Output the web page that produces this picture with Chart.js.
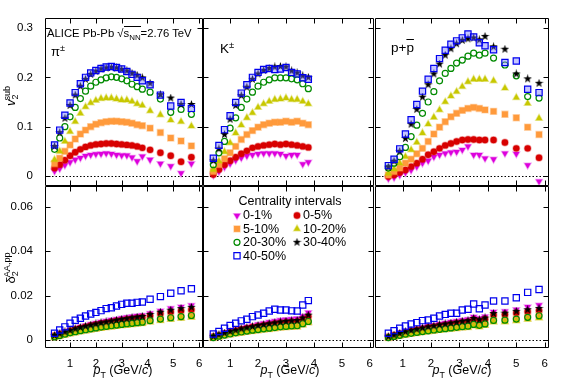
<!DOCTYPE html>
<html>
<head>
<meta charset="utf-8">
<script src="https://cdn.jsdelivr.net/npm/chart.js@4.4.1/dist/chart.umd.min.js"></script>
<style>
  body { margin: 0; background: #fff; }
  #wrap { position: relative; width: 567px; height: 385px; font-family: "Liberation Sans", Arial, sans-serif; color: #000; }
  #wrap canvas { position: absolute; left: 0; top: 0; }
  .lbl { position: absolute; white-space: nowrap; line-height: 1; }
  .lbl sub, .lbl sup { font-size: 0.7em; line-height: 0; }
  .rot { transform: translate(-50%, -50%) rotate(-90deg); }
  .xt { transform: translateX(-50%); }
</style>
</head>
<body>
<div id="wrap">
  <canvas id="c0" width="567" height="385"></canvas>
  <canvas id="c1" width="567" height="385"></canvas>
  <canvas id="c2" width="567" height="385"></canvas>
  <canvas id="c3" width="567" height="385"></canvas>
  <canvas id="c4" width="567" height="385"></canvas>
  <canvas id="c5" width="567" height="385"></canvas>

  <div class="lbl" style="left:47px;top:28px;font-size:11.3px">ALICE Pb-Pb <span>&radic;</span><span style="border-top:1px solid #000">s<sub>NN</sub></span>=2.76 TeV</div>
  <div class="lbl" style="left:51px;top:45px;font-size:13px">&pi;<sup>&plusmn;</sup></div>
  <div class="lbl" style="left:220px;top:42px;font-size:13.5px">K<sup>&plusmn;</sup></div>
  <div class="lbl" style="left:391px;top:41px;font-size:13.5px">p+<span style="text-decoration:overline">p</span></div>

  <div class="lbl rot" style="left:10px;top:96px;font-size:13px"><i>v</i><sub>2</sub><sup style="margin-left:-6px">sub</sup></div>
  <div class="lbl rot" style="left:10px;top:268px;font-size:13px">&delta;<sub>2</sub><sup style="margin-left:-6px">AA,pp</sup></div>

  <div class="lbl xt" style="left:123px;top:364px;font-size:12.5px"><i>p</i><sub>T</sub> (GeV/<i>c</i>)</div>
  <div class="lbl xt" style="left:290px;top:364px;font-size:12.5px"><i>p</i><sub>T</sub> (GeV/<i>c</i>)</div>
  <div class="lbl xt" style="left:462px;top:364px;font-size:12.5px"><i>p</i><sub>T</sub> (GeV/<i>c</i>)</div>
</div>

<script>
// ---- data ----
const centralities = ['0-1%', '0-5%', '5-10%', '10-20%', '20-30%', '30-40%', '40-50%'];
const legendTitle = 'Centrality intervals';

const xTicks = [1, 2, 3, 4, 5, 6];
const v2Ticks = [0, 0.1, 0.2, 0.3];
const deltaTicks = [0, 0.02, 0.04, 0.06];
const zeroLine = 0;

const ptPion = [0.4, 0.6, 0.8, 1.0, 1.2, 1.4, 1.6, 1.8, 2.0, 2.2, 2.4, 2.6, 2.8, 3.0, 3.2, 3.4, 3.6, 3.8, 4.1, 4.5, 4.9, 5.3, 5.7];
const ptKaon = [0.4, 0.6, 0.8, 1.0, 1.2, 1.4, 1.6, 1.8, 2.0, 2.2, 2.4, 2.6, 2.8, 3.0, 3.2, 3.4, 3.6, 3.8];
const ptProton = [0.5, 0.7, 0.9, 1.1, 1.3, 1.5, 1.7, 1.9, 2.1, 2.3, 2.5, 2.7, 2.9, 3.1, 3.3, 3.5, 3.7, 3.9, 4.2, 4.6, 5.0, 5.4, 5.8];

// v2 sub, one row per centrality (same order as centralities)
const v2Pion = [
  [0.010, 0.015, 0.022, 0.028, 0.033, 0.037, 0.041, 0.043, 0.0445, 0.045, 0.046, 0.045, 0.043, 0.042, 0.042, 0.038, 0.030, 0.040, 0.033, 0.025, 0.020, 0.006, 0.025],
  [0.016, 0.023, 0.032, 0.041, 0.048, 0.054, 0.059, 0.062, 0.064, 0.065, 0.066, 0.066, 0.065, 0.064, 0.063, 0.062, 0.060, 0.057, 0.053, 0.047, 0.041, 0.029, 0.038],
  [0.025, 0.036, 0.050, 0.063, 0.075, 0.085, 0.093, 0.100, 0.105, 0.108, 0.110, 0.111, 0.111, 0.110, 0.109, 0.107, 0.104, 0.102, 0.097, 0.088, 0.077, 0.071, 0.061],
  [0.033, 0.050, 0.070, 0.090, 0.110, 0.127, 0.140, 0.148, 0.153, 0.157, 0.158, 0.158, 0.156, 0.154, 0.154, 0.151, 0.146, 0.143, 0.132, 0.124, 0.113, 0.110, 0.101],
  [0.054, 0.077, 0.100, 0.120, 0.139, 0.157, 0.172, 0.182, 0.190, 0.195, 0.199, 0.201, 0.200, 0.197, 0.193, 0.186, 0.181, 0.176, 0.170, 0.156, 0.129, 0.135, 0.125],
  [0.060, 0.088, 0.117, 0.143, 0.164, 0.182, 0.196, 0.206, 0.212, 0.217, 0.219, 0.220, 0.219, 0.216, 0.213, 0.208, 0.204, 0.199, 0.188, 0.165, 0.158, 0.145, 0.145],
  [0.063, 0.093, 0.123, 0.148, 0.169, 0.187, 0.200, 0.209, 0.214, 0.218, 0.221, 0.222, 0.220, 0.217, 0.212, 0.206, 0.200, 0.193, 0.185, 0.164, 0.142, 0.149, 0.137]
];
const v2Kaon = [
  [0.002, 0.009, 0.018, 0.025, 0.032, 0.037, 0.041, 0.043, 0.045, 0.046, 0.046, 0.046, 0.045, 0.041, 0.043, 0.043, 0.024, 0.028],
  [0.003, 0.013, 0.023, 0.031, 0.038, 0.045, 0.051, 0.057, 0.060, 0.062, 0.0635, 0.065, 0.0635, 0.065, 0.0635, 0.062, 0.060, 0.058],
  [0.009, 0.023, 0.035, 0.047, 0.060, 0.074, 0.084, 0.092, 0.099, 0.104, 0.107, 0.109, 0.109, 0.111, 0.109, 0.111, 0.107, 0.104],
  [0.013, 0.030, 0.049, 0.067, 0.087, 0.103, 0.118, 0.128, 0.139, 0.146, 0.151, 0.155, 0.156, 0.158, 0.155, 0.155, 0.151, 0.146],
  [0.023, 0.047, 0.070, 0.097, 0.118, 0.139, 0.156, 0.170, 0.182, 0.190, 0.195, 0.199, 0.199, 0.199, 0.197, 0.195, 0.187, 0.177],
  [0.031, 0.055, 0.084, 0.115, 0.143, 0.163, 0.180, 0.196, 0.207, 0.214, 0.218, 0.221, 0.222, 0.221, 0.213, 0.209, 0.203, 0.200],
  [0.036, 0.062, 0.094, 0.122, 0.149, 0.168, 0.185, 0.200, 0.210, 0.216, 0.218, 0.216, 0.217, 0.220, 0.210, 0.207, 0.199, 0.196]
];
const v2Proton = [
  [-0.005, -0.003, 0.002, 0.007, 0.012, 0.019, 0.026, 0.031, 0.039, 0.043, 0.046, 0.048, 0.049, 0.053, 0.060, 0.043, 0.043, 0.036, 0.034, 0.046, 0.045, 0.022, -0.011],
  [-0.001, 0.002, 0.007, 0.012, 0.019, 0.026, 0.034, 0.043, 0.049, 0.056, 0.062, 0.066, 0.070, 0.073, 0.074, 0.074, 0.073, 0.073, 0.073, 0.068, 0.056, 0.056, 0.037],
  [0.002, 0.009, 0.016, 0.026, 0.034, 0.045, 0.056, 0.070, 0.085, 0.099, 0.110, 0.120, 0.127, 0.133, 0.137, 0.139, 0.137, 0.134, 0.131, 0.125, 0.118, 0.099, 0.084],
  [0.005, 0.014, 0.026, 0.039, 0.053, 0.068, 0.087, 0.105, 0.119, 0.134, 0.150, 0.162, 0.171, 0.181, 0.191, 0.196, 0.196, 0.196, 0.193, 0.178, 0.159, 0.147, 0.117],
  [0.016, 0.026, 0.039, 0.058, 0.080, 0.103, 0.127, 0.150, 0.171, 0.193, 0.208, 0.218, 0.229, 0.235, 0.243, 0.249, 0.245, 0.249, 0.239, 0.225, 0.203, 0.161, 0.158],
  [0.018, 0.030, 0.050, 0.076, 0.105, 0.135, 0.160, 0.185, 0.207, 0.227, 0.245, 0.258, 0.268, 0.275, 0.278, 0.280, 0.276, 0.283, 0.262, 0.257, 0.207, 0.197, 0.188],
  [0.021, 0.034, 0.055, 0.085, 0.114, 0.145, 0.172, 0.196, 0.218, 0.238, 0.255, 0.267, 0.274, 0.280, 0.288, 0.282, 0.270, 0.264, 0.256, 0.230, 0.233, 0.176, 0.169]
];

// delta2 AA,pp
const deltaPion = [
  [0.0022, 0.0030, 0.0038, 0.0046, 0.0053, 0.0060, 0.0066, 0.0072, 0.0077, 0.0082, 0.0087, 0.0091, 0.0095, 0.0099, 0.0103, 0.0106, 0.0109, 0.0112, 0.0121, 0.0132, 0.0143, 0.0150, 0.0157],
  [0.0020, 0.0028, 0.0035, 0.0042, 0.0048, 0.0054, 0.0060, 0.0065, 0.0070, 0.0074, 0.0078, 0.0082, 0.0086, 0.0089, 0.0093, 0.0096, 0.0099, 0.0102, 0.0110, 0.0119, 0.0127, 0.0132, 0.0137],
  [0.0015, 0.0021, 0.0027, 0.0032, 0.0037, 0.0042, 0.0046, 0.0050, 0.0054, 0.0058, 0.0061, 0.0064, 0.0067, 0.0070, 0.0073, 0.0075, 0.0078, 0.0080, 0.0087, 0.0094, 0.0100, 0.0105, 0.0110],
  [0.0012, 0.0018, 0.0024, 0.0029, 0.0034, 0.0038, 0.0042, 0.0046, 0.0050, 0.0053, 0.0056, 0.0059, 0.0062, 0.0065, 0.0067, 0.0070, 0.0072, 0.0075, 0.0081, 0.0088, 0.0094, 0.0098, 0.0102],
  [0.0015, 0.0021, 0.0027, 0.0033, 0.0038, 0.0043, 0.0047, 0.0051, 0.0055, 0.0059, 0.0062, 0.0065, 0.0068, 0.0071, 0.0074, 0.0076, 0.0079, 0.0081, 0.0088, 0.0095, 0.0101, 0.0106, 0.0111],
  [0.0021, 0.0029, 0.0037, 0.0044, 0.0051, 0.0057, 0.0063, 0.0068, 0.0073, 0.0078, 0.0082, 0.0086, 0.0090, 0.0094, 0.0097, 0.0101, 0.0104, 0.0107, 0.0116, 0.0126, 0.0135, 0.0142, 0.0148],
  [0.0031, 0.0046, 0.0060, 0.0076, 0.0090, 0.0099, 0.0109, 0.0118, 0.0125, 0.0133, 0.0142, 0.0146, 0.0154, 0.0161, 0.0166, 0.0166, 0.0170, 0.0172, 0.0184, 0.0196, 0.0211, 0.0222, 0.0231]
];
const deltaKaon = [
  [0.0018, 0.0026, 0.0034, 0.0041, 0.0048, 0.0054, 0.0060, 0.0066, 0.0071, 0.0076, 0.0081, 0.0086, 0.0090, 0.0093, 0.0095, 0.0097, 0.0108, 0.0124],
  [0.0016, 0.0023, 0.0030, 0.0036, 0.0042, 0.0048, 0.0053, 0.0058, 0.0062, 0.0066, 0.0070, 0.0074, 0.0078, 0.0080, 0.0082, 0.0083, 0.0093, 0.0106],
  [0.0012, 0.0018, 0.0023, 0.0028, 0.0032, 0.0036, 0.0040, 0.0044, 0.0047, 0.0050, 0.0053, 0.0056, 0.0059, 0.0061, 0.0063, 0.0064, 0.0073, 0.0083],
  [0.0010, 0.0015, 0.0020, 0.0025, 0.0029, 0.0033, 0.0037, 0.0040, 0.0043, 0.0046, 0.0049, 0.0052, 0.0055, 0.0057, 0.0059, 0.0060, 0.0069, 0.0079],
  [0.0012, 0.0018, 0.0023, 0.0028, 0.0033, 0.0037, 0.0041, 0.0045, 0.0048, 0.0051, 0.0054, 0.0057, 0.0060, 0.0062, 0.0064, 0.0065, 0.0074, 0.0084],
  [0.0017, 0.0024, 0.0032, 0.0039, 0.0045, 0.0051, 0.0056, 0.0061, 0.0066, 0.0070, 0.0074, 0.0078, 0.0082, 0.0085, 0.0087, 0.0089, 0.0100, 0.0113],
  [0.0028, 0.0039, 0.0054, 0.0066, 0.0076, 0.0087, 0.0094, 0.0106, 0.0113, 0.0121, 0.0131, 0.0139, 0.0136, 0.0136, 0.0132, 0.0131, 0.0158, 0.0178]
];
const deltaProton = [
  [0.0017, 0.0025, 0.0033, 0.0040, 0.0046, 0.0052, 0.0058, 0.0063, 0.0068, 0.0073, 0.0078, 0.0082, 0.0086, 0.0090, 0.0094, 0.0105, 0.0098, 0.0106, 0.0128, 0.0130, 0.0138, 0.0150, 0.0158],
  [0.0015, 0.0022, 0.0029, 0.0035, 0.0041, 0.0046, 0.0051, 0.0056, 0.0060, 0.0064, 0.0068, 0.0072, 0.0075, 0.0079, 0.0082, 0.0092, 0.0086, 0.0094, 0.0113, 0.0115, 0.0122, 0.0128, 0.0133],
  [0.0012, 0.0017, 0.0022, 0.0027, 0.0031, 0.0035, 0.0039, 0.0042, 0.0045, 0.0049, 0.0052, 0.0055, 0.0057, 0.0060, 0.0063, 0.0070, 0.0066, 0.0072, 0.0088, 0.0089, 0.0094, 0.0102, 0.0109],
  [0.0010, 0.0014, 0.0019, 0.0023, 0.0027, 0.0031, 0.0035, 0.0038, 0.0041, 0.0044, 0.0047, 0.0050, 0.0052, 0.0055, 0.0057, 0.0064, 0.0060, 0.0066, 0.0081, 0.0082, 0.0087, 0.0094, 0.0099],
  [0.0012, 0.0017, 0.0022, 0.0027, 0.0031, 0.0035, 0.0039, 0.0042, 0.0046, 0.0049, 0.0052, 0.0055, 0.0058, 0.0061, 0.0063, 0.0071, 0.0067, 0.0073, 0.0089, 0.0090, 0.0095, 0.0103, 0.0110],
  [0.0016, 0.0023, 0.0031, 0.0038, 0.0044, 0.0049, 0.0055, 0.0060, 0.0064, 0.0069, 0.0073, 0.0077, 0.0081, 0.0085, 0.0088, 0.0098, 0.0092, 0.0100, 0.0120, 0.0122, 0.0130, 0.0137, 0.0143],
  [0.0031, 0.0043, 0.0054, 0.0064, 0.0073, 0.0079, 0.0088, 0.0091, 0.0099, 0.0109, 0.0116, 0.0121, 0.0121, 0.0136, 0.0139, 0.0163, 0.0141, 0.0158, 0.0176, 0.0176, 0.0191, 0.0215, 0.0228]
];

// ---- layout / style ----
const colEdges = [[45, 203], [203, 374], [375, 549]];
const rowEdges = [[18, 186], [186, 348]];
const xRange = [0.03, 6.15];
const v2Range = [-0.0203, 0.3203];
const deltaRange = [-0.0035, 0.0693];
const tickFont = { family: '"Liberation Sans", Arial, sans-serif', size: 11.5 };

function starImage(size, color) {
  const c = document.createElement('canvas');
  c.width = size; c.height = size;
  const g = c.getContext('2d');
  g.fillStyle = color;
  g.beginPath();
  for (let i = 0; i < 10; i++) {
    const r = i % 2 ? size * 0.2 : size * 0.5;
    const a = -Math.PI / 2 + i * Math.PI / 5;
    g.lineTo(size / 2 + r * Math.cos(a), size / 2 + r * Math.sin(a));
  }
  g.closePath();
  g.fill();
  return c;
}

const markers = [
  { style: 'triangle', rot: 180, r: 3.7, fill: '#dd00dd', line: 'rgba(221,0,221,0.35)', bw: 1.5 },
  { style: 'circle', r: 3.2, fill: '#d80000', line: 'rgba(216,0,0,0.35)', bw: 1.5 },
  { style: 'rect', r: 4.2, fill: '#ff9a3c', line: 'rgba(255,154,60,0.4)', bw: 1.5 },
  { style: 'triangle', r: 3.7, fill: '#c8c800', line: 'rgba(200,200,0,0.4)', bw: 1.5 },
  { style: 'circle', r: 3.0, fill: 'rgba(0,0,0,0)', line: '#008a00', bw: 1.2 },
  { style: starImage(9, '#000'), r: 4, fill: '#000', line: '#000', bw: 0 },
  { style: 'rect', r: 4.4, fill: 'rgba(0,0,0,0)', line: '#0000ee', bw: 1.2 }
];
const boxFillTop = 'rgba(110,110,255,0.4)';

function buildDatasets(pt, series, top) {
  return series.map((vals, i) => {
    const m = markers[i];
    const fill = (top && i === 6) ? boxFillTop : m.fill;
    return {
      label: centralities[i],
      data: vals.map((v, k) => ({ x: pt[k], y: v })),
      showLine: false,
      pointStyle: m.style,
      pointRadius: m.r,
      pointRotation: m.rot || 0,
      pointBackgroundColor: fill,
      pointBorderColor: m.line,
      pointBorderWidth: m.bw,
      backgroundColor: fill,
      borderColor: m.line,
      order: 6 - i
    };
  });
}

// frame with inward ticks on all four sides and the dotted zero line
const rootFrame = {
  id: 'rootFrame',
  beforeDatasetsDraw(chart) {
    const { ctx, chartArea: a, scales } = chart;
    const py = Math.round(scales.y.getPixelForValue(zeroLine)) + 0.5;
    ctx.save();
    ctx.strokeStyle = '#000';
    ctx.lineWidth = 1;
    ctx.setLineDash([1.5, 2]);
    ctx.beginPath();
    ctx.moveTo(a.left, py);
    ctx.lineTo(a.right, py);
    ctx.stroke();
    ctx.restore();
  },
  afterDraw(chart) {
    const { ctx, chartArea: a, scales } = chart;
    const L = Math.round(a.left) + 0.5, R = Math.round(a.right) - 0.5;
    const T = Math.round(a.top) + 0.5, B = Math.round(a.bottom) - 0.5;
    const tl = 5;
    ctx.save();
    ctx.strokeStyle = '#000';
    ctx.lineWidth = 1;
    ctx.beginPath();
    ctx.rect(L, T, R - L, B - T);
    scales.x.ticks.forEach(t => {
      const px = Math.round(scales.x.getPixelForValue(t.value)) + 0.5;
      ctx.moveTo(px, B); ctx.lineTo(px, B - tl);
      ctx.moveTo(px, T); ctx.lineTo(px, T + tl);
    });
    scales.y.ticks.forEach(t => {
      const py = Math.round(scales.y.getPixelForValue(t.value)) + 0.5;
      ctx.moveTo(L, py); ctx.lineTo(L + tl, py);
      ctx.moveTo(R, py); ctx.lineTo(R - tl, py);
    });
    ctx.stroke();
    ctx.restore();
  }
};

// centrality legend drawn inside one panel, from its datasets
const legendBox = {
  id: 'legendBox',
  afterDraw(chart) {
    const { ctx, chartArea: a } = chart;
    ctx.save();
    ctx.fillStyle = '#000';
    ctx.font = '12.5px "Liberation Sans", Arial, sans-serif';
    ctx.textAlign = 'center';
    ctx.textBaseline = 'middle';
    ctx.fillText(legendTitle, a.left + 87, a.top + 16);
    ctx.textAlign = 'left';
    chart.data.datasets.forEach((ds, i) => {
      const m = markers[i];
      const mx = a.left + 34 + (i % 2) * 60;
      const my = a.top + 29.5 + Math.floor(i / 2) * 13.4;
      ctx.fillStyle = m.fill;
      ctx.strokeStyle = m.line;
      ctx.lineWidth = m.bw;
      if (Chart.helpers && Chart.helpers.drawPoint) {
        Chart.helpers.drawPoint(ctx, { pointStyle: m.style, radius: m.r, rotation: m.rot || 0, borderWidth: m.bw }, mx, my);
      }
      ctx.fillStyle = '#000';
      ctx.fillText(ds.label, mx + 6, my + 0.5);
    });
    ctx.restore();
  }
};

function makePanel(id, col, row, pt, series, yRange, yTicks, withLegend) {
  const showY = col === 0;
  const showX = row === 1;
  const yW = 40, xH = 20;
  const [l, r] = colEdges[col];
  const [t, b] = rowEdges[row];
  const plugins = [rootFrame];
  if (withLegend) plugins.push(legendBox);
  return new Chart(document.getElementById(id), {
    type: 'scatter',
    data: { datasets: buildDatasets(pt, series, row === 0) },
    options: {
      responsive: false,
      animation: false,
      events: [],
      layout: {
        padding: { left: l - (showY ? yW : 0), right: 567 - r, top: t, bottom: 385 - b - (showX ? xH : 0) }
      },
      scales: {
        x: {
          type: 'linear',
          min: xRange[0], max: xRange[1],
          display: showX,
          grid: { display: false },
          border: { display: false },
          afterBuildTicks: s => { s.ticks = xTicks.map(v => ({ value: v })); },
          afterFit: s => { s.height = showX ? xH : 0; },
          ticks: { font: tickFont, color: '#000', padding: 1, maxRotation: 0, callback: v => String(v) }
        },
        y: {
          type: 'linear',
          min: yRange[0], max: yRange[1],
          display: showY,
          grid: { display: false },
          border: { display: false },
          afterBuildTicks: s => { s.ticks = yTicks.map(v => ({ value: v })); },
          afterFit: s => { s.width = showY ? yW : 0; },
          ticks: { font: tickFont, color: '#000', padding: 4, callback: v => String(v) }
        }
      },
      plugins: { legend: { display: false }, tooltip: { enabled: false } }
    },
    plugins: plugins
  });
}

makePanel('c0', 0, 0, ptPion, v2Pion, v2Range, v2Ticks, false);
makePanel('c1', 1, 0, ptKaon, v2Kaon, v2Range, v2Ticks, false);
makePanel('c2', 2, 0, ptProton, v2Proton, v2Range, v2Ticks, false);
makePanel('c3', 0, 1, ptPion, deltaPion, deltaRange, deltaTicks, false);
makePanel('c4', 1, 1, ptKaon, deltaKaon, deltaRange, deltaTicks, true);
makePanel('c5', 2, 1, ptProton, deltaProton, deltaRange, deltaTicks, false);
</script>
</body>
</html>
